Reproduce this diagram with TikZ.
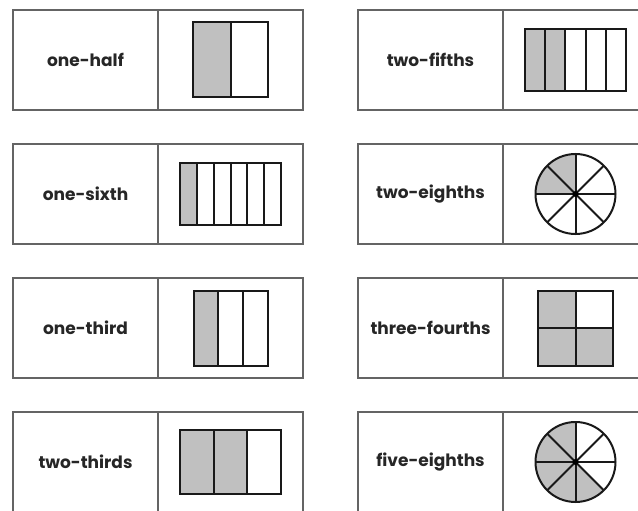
\documentclass[tikz,border=0pt]{standalone}
\usepackage{fontspec}
\setmainfont{Poppins}
\usetikzlibrary{positioning}
\definecolor{cardgray}{RGB}{100,100,100}
\definecolor{partgray}{RGB}{192,192,192}
\tikzset{
    % the two halves of a card
    namecell/.style={
        rectangle, draw=cardgray, line width=1.4pt,
        minimum width=145pt, minimum height=100pt,
        inner sep=0pt, outer sep=0pt, text=black!85,
        font=\fontsize{17}{19}\selectfont\bfseries
    },
    piccell/.style={namecell},
    % fraction drawings
    partline/.style={draw=black!90, line width=2pt},
    shadedpart/.style={partline, fill=partgray},
    plainpart/.style={partline, fill=white},
}
% bar: node, parts, shaded parts, width, height
\newcommand\fracbar[5]{%
  \begin{scope}[shift={(#1.center)}]
    \foreach \i in {1,...,#2}{
      \pgfmathsetmacro\xl{-#4/2+(\i-1)*#4/#2}
      \pgfmathsetmacro\xr{-#4/2+\i*#4/#2}
      \ifnum\i>#3 \def\partstyle{plainpart}\else\def\partstyle{shadedpart}\fi
      \draw[\partstyle] (\xl pt,-#5pt/2) rectangle (\xr pt,#5pt/2);
    }
  \end{scope}}
% circle in eighths: node, start and end angle of the shaded part
\newcommand\fracpie[3]{%
  \begin{scope}[shift={(#1.center)}]
    \fill[partgray] (0pt,0pt) -- (#2:40pt) arc[start angle=#2, end angle=#3, radius=40pt] -- cycle;
    \foreach \a in {0,45,...,315} \draw[partline] (0pt,0pt) -- (\a:40pt);
    \draw[partline] (0pt,0pt) circle[radius=40pt];
    \fill (0pt,0pt) circle[radius=3pt];
  \end{scope}}

\begin{document}
\begin{tikzpicture}[x=1pt,y=-1pt]
  \useasboundingbox (0,0) rectangle (638,511);
  \clip (0,0) rectangle (638,511);
  % left column
  \node[namecell] (half) at (85.5,60) {one-half};
  \node[piccell,right=0pt of half] (halfpic) {};
  \node[namecell,below=34pt of half] (sixth) {one-sixth};
  \node[piccell,right=0pt of sixth] (sixthpic) {};
  \node[namecell,below=34pt of sixth] (third) {one-third};
  \node[piccell,right=0pt of third] (thirdpic) {};
  \node[namecell,below=34pt of third] (twothirds) {two-thirds};
  \node[piccell,right=0pt of twothirds] (twothirdspic) {};
  % right column
  \node[namecell,right=55pt of halfpic] (fifths) {two-fifths};
  \node[piccell,right=0pt of fifths] (fifthspic) {};
  \node[namecell,below=34pt of fifths] (eighths) {two-eighths};
  \node[piccell,right=0pt of eighths] (eighthspic) {};
  \node[namecell,below=34pt of eighths] (fourths) {three-fourths};
  \node[piccell,right=0pt of fourths] (fourthspic) {};
  \node[namecell,below=34pt of fourths] (fiveeighths) {five-eighths};
  \node[piccell,right=0pt of fiveeighths] (fiveeighthspic) {};
  % fractions
  \fracbar{halfpic}{2}{1}{75}{75}
  \fracbar{sixthpic}{6}{1}{101}{62}
  \fracbar{thirdpic}{3}{1}{74}{75}
  \fracbar{twothirdspic}{3}{2}{101}{64}
  \fracbar{fifthspic}{5}{2}{101}{62}
  \fracpie{eighthspic}{90}{180}
  \begin{scope}[shift={(fourthspic.center)}]
    \draw[shadedpart] (-37.5pt,-37.5pt) rectangle (0pt,0pt);
    \draw[shadedpart] (0pt,-37.5pt) rectangle (37.5pt,0pt);
    \draw[shadedpart] (-37.5pt,0pt) rectangle (0pt,37.5pt);
    \draw[plainpart] (0pt,0pt) rectangle (37.5pt,37.5pt);
  \end{scope}
  \fracpie{fiveeighthspic}{90}{315}
\end{tikzpicture}
\end{document}
